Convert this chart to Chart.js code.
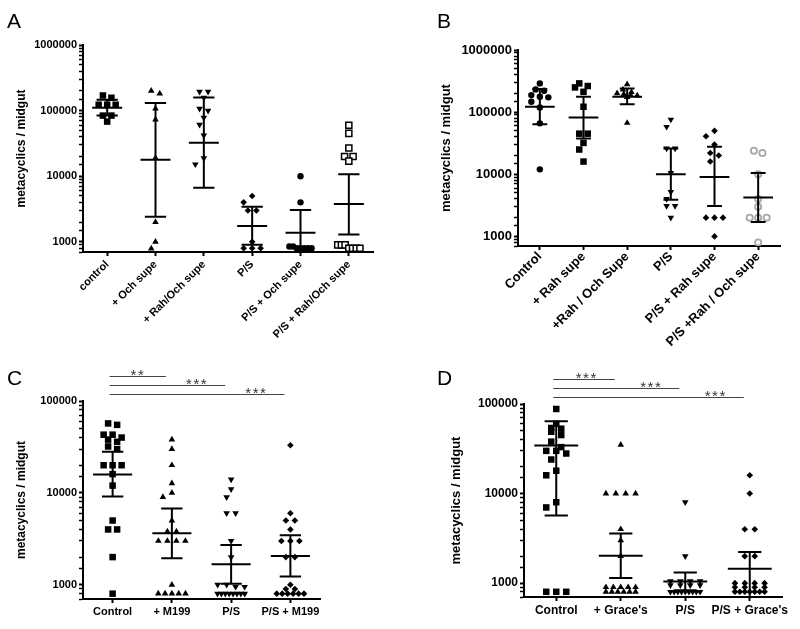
<!DOCTYPE html>
<html><head><meta charset="utf-8">
<script src="https://cdn.jsdelivr.net/npm/chart.js@4/dist/chart.umd.min.js"></script>
<style>
html,body{margin:0;padding:0;background:#fff;width:800px;height:629px;overflow:hidden;position:relative}
canvas{position:absolute}
</style></head><body>
<canvas id="cA" width="400" height="360" style="left:0;top:0"></canvas>
<canvas id="cB" width="400" height="360" style="left:400px;top:0"></canvas>
<canvas id="cC" width="400" height="314" style="left:0;top:315px"></canvas>
<canvas id="cD" width="400" height="314" style="left:400px;top:315px"></canvas>
<script>
// ---------------- Panel A ----------------
const catsA = ['control', '+ Och supe', '+ Rah/Och supe', 'P/S', 'P/S + Och supe', 'P/S + Rah/Och supe'];
const aControl  = [170000, 157000, 123000, 123000, 123000, 84000, 84000, 68000];
const aOch      = [200000, 182000, 107000, 73000, 19000, 2000, 1000, 790];
const aRahOch   = [195000, 195000, 157000, 107000, 100000, 78000, 61000, 42000, 18800, 15200];
const aPS       = [5000, 4000, 3000, 3000, 1000, 800, 800, 800];
const aPSOch    = [10000, 4000, 850, 850, 800, 800, 800, 800, 800];
const aPSRahOch = [60000, 45000, 27000, 20000, 20000, 17000, 900, 900, 900, 800, 800, 800, 800];
const meanA = [111000, 17900, 32400, 1750, 1380, 3770];
const lowA  = [84000, 2420, 6650, 900, 500, 1290];
const highA = [147000, 131000, 159000, 3430, 3050, 10700];

// ---------------- Panel B ----------------
const catsB = ['Control', '+ Rah supe', '+Rah / Och Supe', 'P/S', 'P/S + Rah supe', 'P/S +Rah / Och supe'];
const bControl  = [290000, 232000, 221000, 188000, 177000, 173000, 147000, 119000, 66000, 12000];
const bRah      = [290000, 263000, 250000, 212000, 122000, 45000, 45000, 32000, 25000, 16000];
const bRahOch   = [280000, 230000, 210000, 200000, 195000, 190000, 185000, 175000, 67000];
const bPS       = [76000, 58000, 26000, 26000, 10500, 5200, 4000, 3100, 3100, 2000];
const bPSRah    = [50000, 41000, 30000, 22000, 20000, 16000, 2000, 2000, 2000, 1000];
const bPSRahOch = [24000, 22000, 10000, 4000, 3000, 2000, 2000, 2000, 800];
const meanB = [121600, 82000, 177000, 10000, 9060, 4210];
const lowB  = [64000, 37700, 134000, 3900, 3090, 1700];
const highB = [235000, 177000, 241000, 26000, 27600, 10500];

// ---------------- Panel C ----------------
const catsC = ['Control', '+ M199', 'P/S', 'P/S + M199'];
const cControl = [57000, 55000, 43000, 43000, 40000, 38000, 36000, 32000, 30000, 20000, 20000, 20000, 16000, 12000, 5000, 4000, 4000, 2000, 800];
const cM199    = [38000, 30000, 20000, 12700, 10000, 9000, 5000, 3800, 3800, 3000, 3000, 3000, 3000, 1000, 800, 800, 800, 800, 800];
const cPS      = [14000, 11000, 9000, 6000, 6000, 3000, 2000, 1000, 1000, 950, 950, 800, 800, 800, 800, 800, 800, 800, 800];
const cPSM199  = [33000, 6000, 5000, 5000, 4000, 3000, 3000, 3000, 2000, 2000, 1000, 900, 900, 800, 800, 800, 800, 800, 800];
const meanC = [15900, 3640, 1670, 2055];
const lowC  = [9160, 1940, 1025, 1230];
const highC = [28100, 6760, 2710, 3460];
const sigC  = [[0, 1, '**'], [0, 2, '***'], [0, 3, '***']];

// ---------------- Panel D ----------------
const catsD = ['Control', "+ Grace's", 'P/S', "P/S + Grace's"];
const dControl = [88000, 60000, 54000, 53000, 49000, 45000, 38000, 33000, 30000, 30000, 28000, 24000, 18000, 16000, 8000, 7000, 800, 800, 800];
const dGrace   = [35000, 10000, 10000, 10000, 10000, 4000, 3000, 2000, 900, 900, 900, 900, 900, 800, 800, 800, 800, 800, 800];
const dPS      = [8000, 2000, 1050, 1050, 1050, 1050, 950, 950, 950, 950, 800, 800, 800, 800, 800, 800, 800, 800, 800];
const dPSGrace = [16000, 10000, 4000, 4000, 2000, 2000, 1000, 1000, 1000, 1000, 900, 900, 900, 900, 800, 800, 800, 800, 800, 800, 800];
const meanD = [34400, 2020, 1040, 1445];
const lowD  = [5690, 1140, 830, 600];
const highD = [64000, 3580, 1310, 2220];
const sigD  = [[0, 1, '***'], [0, 2, '***'], [0, 3, '***']];

// ---------------- styles ----------------
const FONT = '"Liberation Sans", Arial, Helvetica, sans-serif';
const SQ   = {shape: 'rect', r: 4.6, fill: '#000', stroke: '#000', bw: 0};
const TRI  = {shape: 'triangle', r: 3.8, fill: '#000', stroke: '#000', bw: 0};
const ITRI = {shape: 'triangle', rot: 180, r: 3.8, fill: '#000', stroke: '#000', bw: 0};
const DIA  = {shape: 'rectRot', r: 3.3, fill: '#000', stroke: '#000', bw: 0};
const CIR  = {shape: 'circle', r: 3.2, fill: '#000', stroke: '#000', bw: 0};
const OSQ  = {shape: 'rect', r: 4.3, fill: '#fff', stroke: '#000', bw: 1.5};
const OCIR = {shape: 'circle', r: 3.1, fill: '#fff', stroke: '#a8a8a8', bw: 1.8};

function isPow10(v) { const l = Math.log10(v); return Math.abs(l - Math.round(l)) < 1e-9; }

// GraphPad-style scatter: equal values spread in symmetric rows, single values swarm around centre
function spread(vals, pxDec, s, maxW) {
  const sorted = [...vals].sort((a, b) => b - a);
  const rows = [];
  for (const v of sorted) {
    const y = Math.log10(v) * pxDec;
    const r = rows[rows.length - 1];
    if (r && Math.abs(r.y0 - y) <= 3.5) r.v.push(v); else rows.push({y0: y, v: [v]});
  }
  const out = [];
  const placed = [];
  const coll = s * 0.9;
  const cands = [0];
  for (let k = 1; k * s / 2 <= maxW / 2 + 0.01; k++) cands.push(-k * s / 2, k * s / 2);
  for (const r of rows) {
    const n = r.v.length;
    if (n === 1) {
      const y = Math.log10(r.v[0]) * pxDec;
      let best = 0, bestD = -1;
      for (const dx of cands) {
        let md = Infinity;
        for (const p of placed) md = Math.min(md, Math.hypot(p.dx - dx, p.y - y));
        if (md >= coll) { best = dx; bestD = Infinity; break; }
        if (md > bestD) { bestD = md; best = dx; }
      }
      placed.push({dx: best, y});
      out.push({dx: best, v: r.v[0]});
    } else {
      let sp = s;
      if ((n - 1) * sp > maxW) sp = maxW / (n - 1);
      r.v.forEach((v, k) => {
        const dx = (k - (n - 1) / 2) * sp;
        placed.push({dx, y: Math.log10(v) * pxDec});
        out.push({dx, v});
      });
    }
  }
  return out;
}

const annot = {
  id: 'annot',
  afterDraw(chart, args, o) {
    const ctx = chart.ctx;
    ctx.save();
    ctx.fillStyle = '#000';
    ctx.font = '21px ' + FONT;
    ctx.textBaseline = 'alphabetic';
    ctx.textAlign = 'left';
    ctx.fillText(o.letter, o.lx, o.ly);
    if (o.sig) {
      const xs = chart.scales.x, top = chart.chartArea.top, n = o.sig.length;
      o.sig.forEach(([a, b, lab], k) => {
        const y = top - 6.5 - 9 * (n - 1 - k);
        const x1 = xs.getPixelForValue(a) - 3, x2 = xs.getPixelForValue(b) - 6;
        ctx.strokeStyle = '#444'; ctx.lineWidth = 1.2;
        ctx.beginPath(); ctx.moveTo(x1, y); ctx.lineTo(x2, y); ctx.stroke();
        ctx.fillStyle = '#333';
        ctx.font = '15px ' + FONT;
        ctx.letterSpacing = '1.5px';
        ctx.textAlign = 'center';
        ctx.fillText(lab, x2 - 28, y + 3.3);
      });
    }
    ctx.restore();
  }
};

function makeChart(c) {
  const n = c.cats.length;
  const pxCat = (c.area.right - c.area.left) / n;
  const pxDec = (c.area.bottom - c.area.top) / (Math.log10(c.yMax) - Math.log10(c.yMin));
  const datasets = [];
  const eb = [];
  for (let i = 0; i < n; i++) {
    const g = {x: i, y: null};
    eb.push({x: i - c.meanHW, y: c.mean[i]}, {x: i + c.meanHW, y: c.mean[i]}, g,
            {x: i, y: c.low[i]}, {x: i, y: c.high[i]}, g,
            {x: i - c.capHW, y: c.high[i]}, {x: i + c.capHW, y: c.high[i]}, g,
            {x: i - c.capHW, y: c.low[i]}, {x: i + c.capHW, y: c.low[i]}, g);
  }
  datasets.push({data: eb, showLine: true, spanGaps: false, borderColor: '#000', borderWidth: 2,
                 pointRadius: 0, clip: 0, order: 0});
  c.groups.forEach((vals, i) => {
    const st = c.styles[i];
    const pts = spread(vals, pxDec, c.spacing, 0.46 * pxCat).map(p => ({x: i + p.dx / pxCat, y: p.v}));
    datasets.push({data: pts, pointStyle: st.shape, pointRotation: st.rot || 0, pointRadius: st.r,
                   backgroundColor: st.fill, borderColor: st.stroke, borderWidth: st.bw, order: 1});
  });
  return new Chart(document.getElementById(c.id), {
    type: 'scatter',
    data: {datasets},
    plugins: [annot],
    options: {
      responsive: false, animation: false, events: [], devicePixelRatio: 1,
      layout: {padding: {left: 0, top: c.area.top, right: c.W - c.area.right, bottom: 0}},
      plugins: {legend: {display: false}, tooltip: {enabled: false},
                annot: {letter: c.letter, lx: c.lx, ly: c.ly, sig: c.sig}},
      scales: {
        x: {
          type: 'linear', min: -0.5, max: n - 0.5,
          afterBuildTicks: s => { s.ticks = c.cats.map((_, i) => ({value: i})); },
          afterFit: s => { s.height = c.H - c.area.bottom; },
          ticks: {autoSkip: false, callback: v => c.cats[v], color: '#000', padding: c.xPad,
                  minRotation: c.rot, maxRotation: c.rot,
                  font: {family: FONT, size: c.xFont, weight: 'bold'}},
          grid: {drawOnChartArea: false, drawTicks: true, tickLength: 4, tickWidth: 2, tickColor: '#000'},
          border: {display: true, color: '#000', width: 2}
        },
        y: {
          type: 'logarithmic', min: c.yMin, max: c.yMax,
          afterFit: s => { s.width = c.area.left; },
          ticks: {autoSkip: false, callback: v => isPow10(v) ? String(v) : '', color: '#000', padding: 2,
                  font: {family: FONT, size: c.yFont, weight: 'bold'}},
          grid: {drawOnChartArea: false, drawTicks: true, tickLength: 4,
                 tickWidth: ctx => (ctx.tick && isPow10(ctx.tick.value)) ? 2 : 1.5, tickColor: '#000'},
          border: {display: true, color: '#000', width: 2},
          title: {display: true, text: 'metacyclics / midgut', color: '#000',
                  font: {family: FONT, size: c.tFont, weight: 'bold'},
                  padding: {top: c.tPad, bottom: 0}}
        }
      }
    }
  });
}

makeChart({id: 'cA', W: 400, H: 360, cats: catsA,
  groups: [aControl, aOch, aRahOch, aPS, aPSOch, aPSRahOch], styles: [SQ, TRI, ITRI, DIA, CIR, OSQ],
  mean: meanA, low: lowA, high: highA, yMin: 700, yMax: 1000000,
  area: {left: 83, right: 373, top: 45, bottom: 252}, rot: 45, xFont: 11, xPad: 2, yFont: 11, tFont: 12, tPad: 14.8,
  meanHW: 0.31, capHW: 0.22, spacing: 8.5, letter: 'A', lx: 7, ly: 28});

makeChart({id: 'cB', W: 400, H: 360, cats: catsB,
  groups: [bControl, bRah, bRahOch, bPS, bPSRah, bPSRahOch], styles: [CIR, SQ, TRI, ITRI, DIA, OCIR],
  mean: meanB, low: lowB, high: highB, yMin: 700, yMax: 1000000,
  area: {left: 118, right: 380, top: 50, bottom: 246}, rot: 45, xFont: 13, xPad: -1, yFont: 13, tFont: 13, tPad: 38.9,
  meanHW: 0.34, capHW: 0.17, spacing: 8.5, letter: 'B', lx: 37, ly: 28});

makeChart({id: 'cC', W: 400, H: 314, cats: catsC,
  groups: [cControl, cM199, cPS, cPSM199], styles: [SQ, TRI, ITRI, DIA],
  mean: meanC, low: lowC, high: highC, yMin: 700, yMax: 100000,
  area: {left: 83, right: 320, top: 86, bottom: 284}, rot: 0, xFont: 11, xPad: 2, yFont: 11, tFont: 12, tPad: 14.5,
  meanHW: 0.33, capHW: 0.18, spacing: 9, letter: 'C', lx: 7, ly: 70, sig: sigC});

makeChart({id: 'cD', W: 400, H: 314, cats: catsD,
  groups: [dControl, dGrace, dPS, dPSGrace], styles: [SQ, TRI, ITRI, DIA],
  mean: meanD, low: lowD, high: highD, yMin: 700, yMax: 100000,
  area: {left: 124, right: 382, top: 89, bottom: 282}, rot: 0, xFont: 12, xPad: 2, yFont: 12, tFont: 13, tPad: 48.2,
  meanHW: 0.34, capHW: 0.18, spacing: 10, letter: 'D', lx: 37, ly: 70, sig: sigD});
</script>
</body></html>
